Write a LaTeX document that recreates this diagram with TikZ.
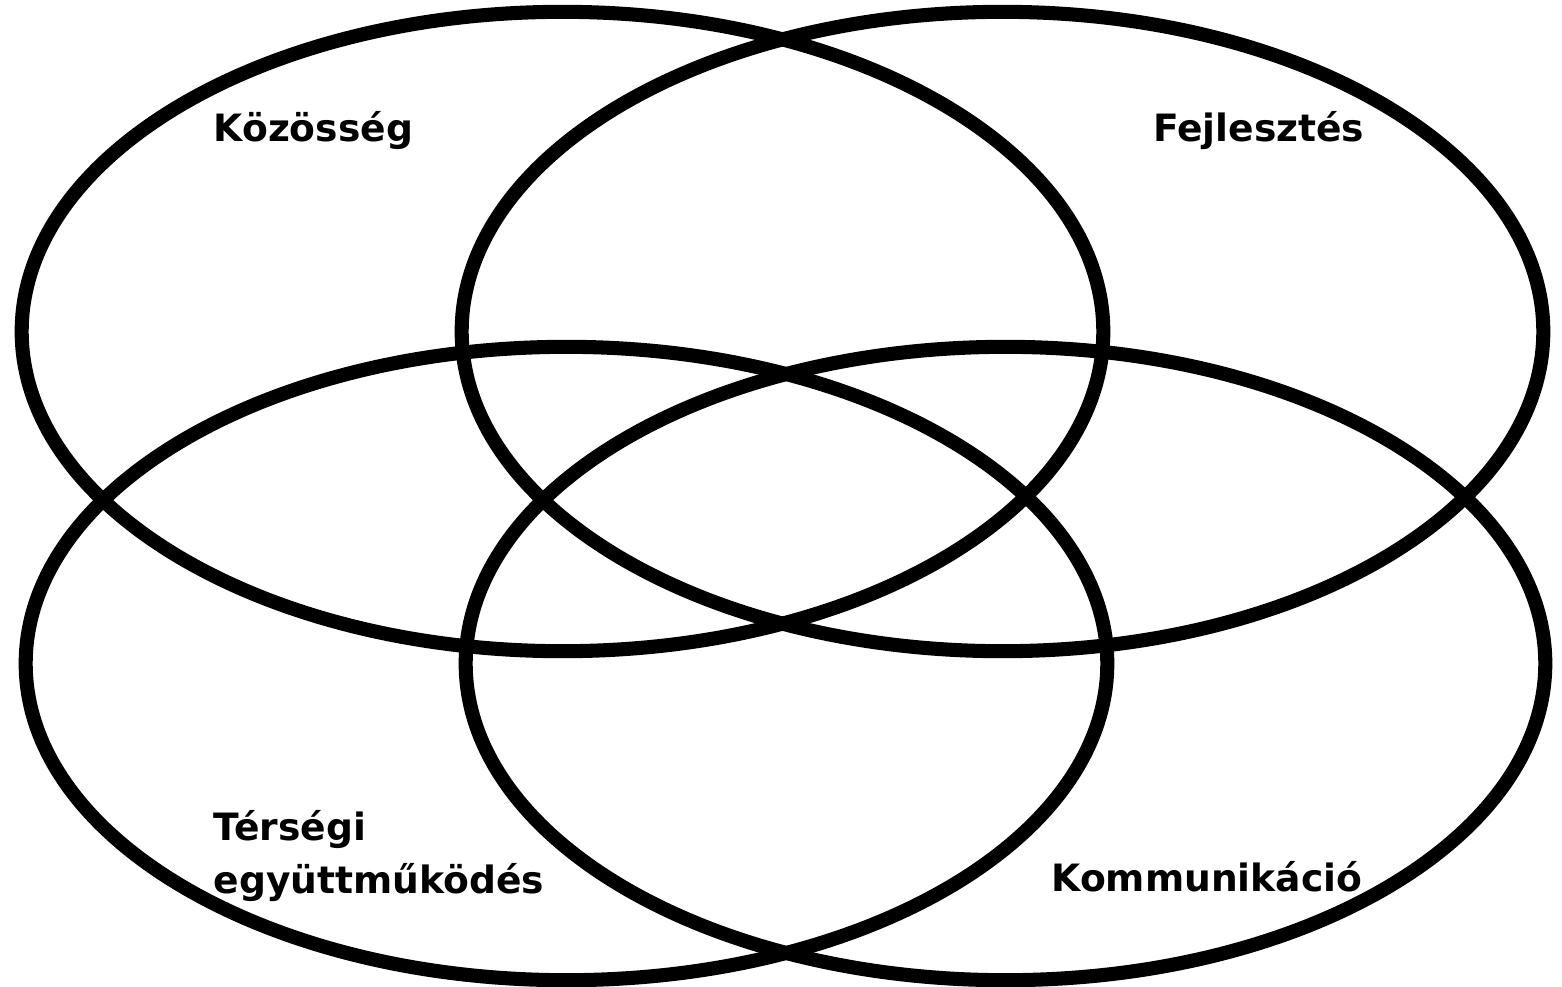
\documentclass[tikz,border=0pt]{standalone}
\usepackage{fontspec}
\setmainfont{DejaVu Sans}
\usepackage{tikz}
\usetikzlibrary{positioning}

\begin{document}
\begin{tikzpicture}[
    x=0.01cm, y=-0.01cm,
    ring/.style={draw=black, line width=4pt},
    tag/.style={font=\fontsize{10.7}{15.3}\selectfont\bfseries, inner sep=0pt, align=left},
    ]
\useasboundingbox (0,0) rectangle (1562,987);

% ellipse centres
\coordinate (ctl) at (562.5,331.5);
\coordinate (ctr) at (1002.5,331.5);
\coordinate (cbl) at (566.5,663.5);
\coordinate (cbr) at (1005.5,663.5);

\draw[ring] (ctl) ellipse [x radius=5.405cm, y radius=3.195cm];
\draw[ring] (ctr) ellipse [x radius=5.405cm, y radius=3.195cm];
\draw[ring] (cbl) ellipse [x radius=5.405cm, y radius=3.165cm];
\draw[ring] (cbr) ellipse [x radius=5.395cm, y radius=3.165cm];

% labels in the outer corners
\node[tag, anchor=west] (kozosseg) at (213,131) {Közösség};
\node[tag, anchor=east] (fejlesztes) at (1365,131) {Fejlesztés};
\node[tag, anchor=west] (tersegi) at (213,856) {Térségi\\együttműködés};
\node[tag, anchor=east] (kommunikacio) at (1363,877) {Kommunikáció};
\end{tikzpicture}
\end{document}
